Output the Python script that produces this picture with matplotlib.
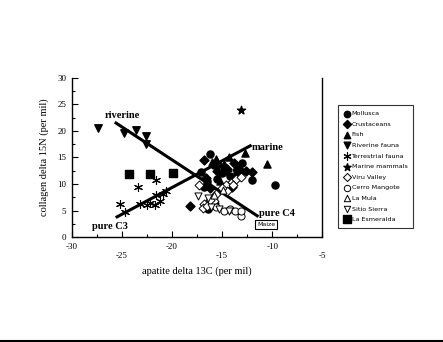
import matplotlib.pyplot as plt
from matplotlib.lines import Line2D

# isotope values (d13C apatite, d15N collagen) by group
mollusca_x = [-16.2, -17.1, -13.0, -12.0, -9.7, -16.5, -15.8, -15.0, -14.2, -16.8, -15.5, -14.8, -13.5, -15.8, -16.4]
mollusca_y = [15.7, 12.3, 13.9, 10.8, 9.9, 10.5, 13.5, 12.0, 11.5, 9.5, 11.0, 13.2, 12.0, 6.0, 5.3]
crust_x = [-12.0, -18.2, -16.8, -15.5, -14.5, -13.3, -16.2, -14.0, -15.8, -16.6, -13.8, -12.6]
crust_y = [12.3, 5.8, 14.5, 12.5, 12.8, 12.8, 9.2, 9.5, 6.5, 11.2, 14.0, 12.5]
fish_x = [-10.5, -12.7, -14.3, -15.6, -16.0, -14.8, -13.2, -15.2, -16.3, -13.6]
fish_y = [13.8, 15.8, 15.0, 14.8, 14.2, 13.8, 12.5, 10.5, 10.0, 13.2]
riverine_x = [-27.4, -24.8, -23.6, -22.6, -22.6]
riverine_y = [20.6, 19.6, 20.2, 19.1, 17.6]
terr_x = [-25.2, -24.7, -23.4, -21.6, -23.2, -22.5, -21.7, -21.6, -21.2, -20.9, -22.2, -20.6]
terr_y = [6.2, 4.7, 9.4, 10.8, 6.3, 6.0, 6.0, 7.9, 6.8, 8.2, 6.5, 8.6]
marmam_x = [-13.1, -15.2, -14.5]
marmam_y = [24.0, 13.5, 12.2]
viru_x = [-17.3, -16.8, -16.9, -14.0, -13.6, -13.1, -14.6, -15.6, -15.8, -14.5, -15.0, -16.2, -13.9, -16.5]
viru_y = [9.8, 6.3, 5.4, 10.4, 11.0, 11.3, 9.8, 8.2, 6.7, 8.6, 9.2, 7.0, 9.8, 5.9]
cerro_x = [-14.2, -13.7, -13.1, -13.1, -14.8, -15.6]
cerro_y = [5.2, 5.0, 3.9, 5.0, 5.0, 5.6]
lamula_x = [-14.9, -15.8]
lamula_y = [8.8, 8.0]
sierra_x = [-17.4, -16.4, -15.3, -16.1, -14.3]
sierra_y = [7.7, 7.3, 5.2, 5.6, 5.0]
esmer_x = [-24.3, -22.2, -19.9]
esmer_y = [11.8, 11.9, 12.1]

# end points of the two diet lines
riv_line_x = [-25.6, -11.5]
riv_line_y = [21.5, 4.0]
mar_line_x = [-25.5, -12.2]
mar_line_y = [3.8, 17.2]

fig = plt.figure(figsize=(4.43, 3.42), dpi=100)
ax = fig.add_axes([0.1625, 0.307, 0.565, 0.465])

serif = 'Liberation Serif'
ms = 26
ax.plot(riv_line_x, riv_line_y, color='black', lw=2.2, zorder=3)
ax.plot(mar_line_x, mar_line_y, color='black', lw=2.2, zorder=3)

h = []
h.append(ax.scatter(mollusca_x, mollusca_y, marker='o', s=ms, c='black', label='Mollusca', zorder=4))
h.append(ax.scatter(crust_x, crust_y, marker='D', s=ms * 0.8, c='black', label='Crustaceans', zorder=4))
h.append(ax.scatter(fish_x, fish_y, marker='^', s=ms, c='black', label='Fish', zorder=4))
h.append(ax.scatter(riverine_x, riverine_y, marker='v', s=ms * 1.1, c='black', label='Riverine fauna', zorder=4))
h.append(ax.scatter(terr_x, terr_y, marker=(6, 2, 0), s=ms * 1.3, c='black', linewidths=0.8,
                    label='Terrestrial fauna', zorder=4))
h.append(ax.scatter(marmam_x, marmam_y, marker='*', s=ms * 1.4, c='black', label='Marine mammals', zorder=4))
h.append(ax.scatter(viru_x, viru_y, marker='D', s=ms * 0.8, facecolors='white', edgecolors='black',
                    linewidths=0.7, label='Viru Valley', zorder=5))
h.append(ax.scatter(cerro_x, cerro_y, marker='o', s=ms, facecolors='white', edgecolors='black',
                    linewidths=0.7, label='Cerro Mangote', zorder=5))
h.append(ax.scatter(lamula_x, lamula_y, marker='^', s=ms, facecolors='white', edgecolors='black',
                    linewidths=0.7, label='La Mula', zorder=5))
h.append(ax.scatter(sierra_x, sierra_y, marker='v', s=ms, facecolors='white', edgecolors='black',
                    linewidths=0.7, label='Sitio Sierra', zorder=5))
h.append(ax.scatter(esmer_x, esmer_y, marker='s', s=ms * 1.3, c='black', label='La Esmeralda', zorder=4))

# annotations for the end members
bold = dict(family=serif, fontsize=7.5, fontweight='bold')
ax.text(-26.7, 22.5, 'riverine', **bold)
ax.text(-12.0, 16.4, 'marine', **bold)
ax.text(-28.0, 1.6, 'pure C3', **bold)
ax.text(-11.3, 3.9, 'pure C4', **bold)
ax.text(-10.6, 2.4, 'Maize', family='DejaVu Sans', fontsize=4.5, ha='center', va='center',
        bbox=dict(boxstyle='square,pad=0.35', fc='white', ec='black', lw=0.8))

ax.set_xlim(-30, -5)
ax.set_ylim(0, 30)
xt = [-30, -25, -20, -15, -10, -5]
ax.set_xticks(xt)
ax.set_xticklabels([str(v) if i % 2 == 0 else '\n' + str(v) for i, v in enumerate(xt)],
                   family=serif, fontsize=6.5, linespacing=1.3)
ax.set_xticks([-27.5, -22.5, -17.5, -12.5, -7.5], minor=True)
ax.set_yticks(range(0, 31, 5))
ax.set_yticklabels([str(v) for v in range(0, 31, 5)], family=serif, fontsize=6.5)
ax.set_yticks([2.5, 7.5, 12.5, 17.5, 22.5, 27.5], minor=True)
ax.tick_params(which='major', direction='in', length=4, width=0.8, pad=4)
ax.tick_params(which='minor', direction='in', length=2, width=0.8)
ax.tick_params(axis='y', which='both', right=False)
ax.spines['top'].set_visible(False)
for s in ['left', 'bottom', 'right']:
    ax.spines[s].set_linewidth(1.0)

ax.set_xlabel('apatite delta 13C (per mil)', family=serif, fontsize=7.5, labelpad=4)
ax.set_ylabel('collagen delta 15N (per mil)', family=serif, fontsize=7.5, labelpad=6)

leg = fig.legend(handles=h, loc='upper left', bbox_to_anchor=(0.756, 0.702), frameon=True,
                 fancybox=False, edgecolor='black', prop=dict(family='DejaVu Sans', size=4.6),
                 handletextpad=0.2, handlelength=1.0, labelspacing=0.8, borderpad=0.9,
                 markerscale=0.9)
leg.get_frame().set_linewidth(0.8)

# rule along the bottom edge
fig.add_artist(Line2D([0, 1], [0.004, 0.004], color='black', lw=1.5, transform=fig.transFigure))

fig.savefig('out.png', dpi=100)
